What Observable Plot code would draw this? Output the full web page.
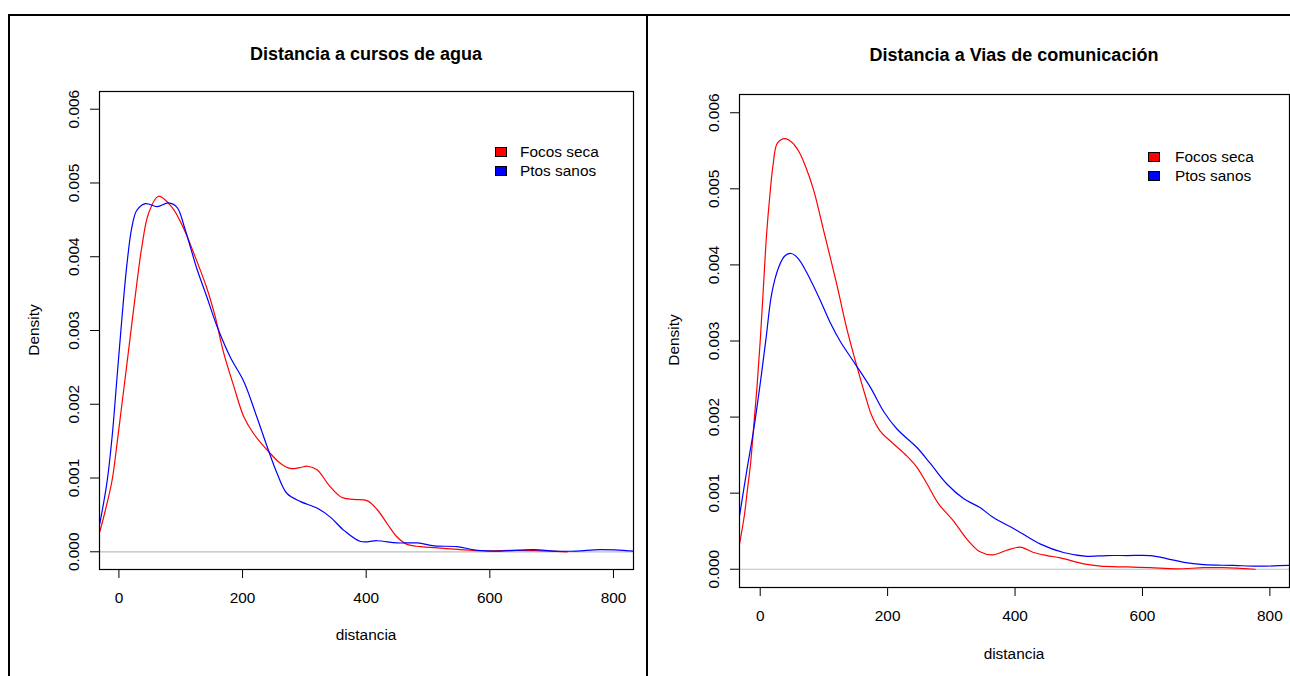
<!DOCTYPE html>
<html>
<head>
<meta charset="utf-8">
<script src="https://cdn.jsdelivr.net/npm/d3@7"></script>
<script src="https://cdn.jsdelivr.net/npm/@observablehq/plot@0.6"></script>
<style>
  body { margin: 0; background: #fff; }
  #wrap { position: relative; width: 1290px; height: 676px; overflow: hidden; background: #fff;
          font-family: "Liberation Sans", Arial, Helvetica, sans-serif; color: #000; }
  .panel { position: absolute; top: 0; }
  .line { position: absolute; background: #000; z-index: 5; }
  .c { position: absolute; transform: translate(-50%, -50%); white-space: nowrap; line-height: 1; font-size: 15.4px; }
  .rot { position: absolute; transform: translate(-50%, -50%) rotate(-90deg); white-space: nowrap; line-height: 1; font-size: 15.4px; }
  .title { font-weight: bold; font-size: 18px; }
  .lg { position: absolute; transform: translate(0, -50%); white-space: nowrap; line-height: 1; font-size: 15.4px; }
  .sq { position: absolute; width: 12px; height: 10px; box-sizing: border-box; border: 1px solid #000; }
</style>
</head>
<body>
<div id="wrap"></div>
<script>
// ---------------- data ----------------
const seriesNames = ["Focos seca", "Ptos sanos"];
const seriesColors = ["#FF0000", "#0000FF"];
const titles = ["Distancia a cursos de agua", "Distancia a Vias de comunicación"];
const xLabel = "distancia";
const yLabel = "Density";
const xTicks = [0, 200, 400, 600, 800];
const yTicks = [0, 0.001, 0.002, 0.003, 0.004, 0.005, 0.006];

// Panel 1: Distancia a cursos de agua
const aguaFocosX = [-31, -22, -11, -3, 5, 13, 21, 29, 37, 48, 64, 86, 106, 121, 142, 156, 169, 186, 202, 218, 242, 261, 277, 292, 305, 321, 340, 360, 380, 402, 418, 434, 450, 466, 488, 520, 552, 590, 645, 682, 725];
const aguaFocosD = [0.00027, 0.00056, 0.00097, 0.00147, 0.00201, 0.00255, 0.0031, 0.00364, 0.00413, 0.00459, 0.00482, 0.00467, 0.00436, 0.00405, 0.00358, 0.00318, 0.00271, 0.00224, 0.00183, 0.0016, 0.00136, 0.0012, 0.00113, 0.00114, 0.00116, 0.00111, 0.0009, 0.00074, 0.00071, 0.00069, 0.00057, 0.00038, 0.0002, 0.0001, 0.00007, 0.00005, 0.00003, 0.000014, 0.00002, 0.000013, 0];
const aguaSanosX = [-31, -19.5, -11, -3, 5, 13, 21, 29, 43, 62, 80, 94, 106, 126, 142, 159, 180, 202, 223, 240, 256, 272, 294, 321, 342, 364, 391, 418, 450, 483, 510, 547, 580, 617, 671, 704, 740, 779, 832];
const aguaSanosD = [0.00038, 0.00093, 0.00156, 0.00237, 0.00318, 0.0039, 0.0044, 0.00463, 0.00472, 0.00468, 0.00473, 0.00467, 0.0044, 0.00384, 0.00346, 0.00305, 0.00264, 0.00231, 0.00183, 0.00142, 0.00106, 0.00079, 0.00068, 0.00059, 0.00047, 0.00029, 0.00014, 0.00015, 0.00012, 0.00012, 0.00008, 0.00007, 0.00002, 0.00001, 0.00003, 0.00001, 0.00001, 0.00003, 0.00001];

// Panel 2: Distancia a Vias de comunicación
const viasFocosX = [-32.5, -25, -20, -15, -10, -5, 0, 5, 10, 15, 20, 27, 39, 50, 60, 70, 84, 99, 120, 136, 152, 165, 175, 188, 209, 230, 246, 262, 280, 303, 324, 345, 366, 387, 408, 429, 450, 471, 508, 534, 576, 612, 654, 696, 727, 777];
const viasFocosD = [0.00033, 0.0007, 0.00105, 0.0014, 0.0019, 0.0024, 0.003, 0.0037, 0.0044, 0.0049, 0.0053, 0.0056, 0.00566, 0.00561, 0.0055, 0.00532, 0.00498, 0.00447, 0.00375, 0.00316, 0.00266, 0.00228, 0.00202, 0.00182, 0.00165, 0.00149, 0.00134, 0.00112, 0.00086, 0.00064, 0.0004, 0.00023, 0.00019, 0.00025, 0.00029, 0.00022, 0.00018, 0.00015, 0.00007, 0.00004, 0.00003, 0.00002, 0.000005, 0.00002, 0.00002, 0];
const viasSanosX = [-32.5, -21, -10.5, 0, 9.4, 18, 29, 39, 49, 60, 73, 94, 110, 126, 149, 173, 194, 215, 246, 267, 293, 319, 345, 366, 403, 440, 476, 513, 544, 576, 612, 638, 665, 696, 743, 780, 831];
const viasSanosD = [0.0007, 0.0013, 0.00182, 0.00244, 0.00305, 0.00362, 0.00397, 0.00412, 0.00415, 0.00408, 0.0039, 0.00354, 0.00324, 0.00299, 0.0027, 0.00239, 0.00207, 0.00184, 0.0016, 0.00139, 0.00112, 0.00093, 0.00081, 0.00068, 0.00051, 0.00033, 0.00022, 0.00017, 0.00018, 0.00018, 0.00018, 0.00014, 0.00009, 0.00006, 0.00005, 0.00004, 0.00005];

// ---------------- helpers ----------------
const rows = (xs, ds, serie) => xs.map((x, i) => ({x, d: ds[i], serie}));
const FONT = '"Liberation Sans", Arial, Helvetica, sans-serif';

function panel(data, xDomain, width, height, m) {
  return Plot.plot({
    width, height,
    marginLeft: m[0], marginRight: m[1], marginTop: m[2], marginBottom: m[3],
    x: {domain: xDomain},
    y: {domain: [-0.00024, 0.00624]},
    color: {domain: seriesNames, range: seriesColors},
    style: {fontFamily: FONT, fontSize: "15.4px", background: "transparent", color: "#000"},
    marks: [
      Plot.ruleY([0], {stroke: "#BEBEBE", strokeWidth: 1.2}),
      Plot.line(data, {x: "x", y: "d", z: "serie", stroke: "serie", strokeWidth: 1.2, curve: "catmull-rom", clip: true}),
      Plot.frame({stroke: "#000", strokeWidth: 1.2}),
      Plot.axisX({ticks: xTicks, tickSize: 9, tickPadding: 14, tickFormat: d => String(d), label: null, fontSize: 15.4, stroke: "#000"}),
      Plot.axisY({ticks: yTicks, tickSize: 9, tickPadding: 12, tickRotate: -90, tickFormat: d3.format(".3f"), label: null, fontSize: 15.4, stroke: "#000"})
    ]
  });
}

const wrap = document.getElementById("wrap");

const p1 = panel(
  [...rows(aguaFocosX, aguaFocosD, seriesNames[0]), ...rows(aguaSanosX, aguaSanosD, seriesNames[1])],
  [-31.4, 832.4], 648, 676, [99, 15, 91, 107]);
p1.classList.add("panel"); p1.style.left = "0px";
wrap.appendChild(p1);

const p2 = panel(
  [...rows(viasFocosX, viasFocosD, seriesNames[0]), ...rows(viasSanosX, viasSanosD, seriesNames[1])],
  [-32.5, 830.8], 642, 676, [91, 1, 94, 89]);
p2.classList.add("panel"); p2.style.left = "648px";
wrap.appendChild(p2);

function add(cls, text, x, y, extra) {
  const el = document.createElement("div");
  el.className = cls;
  el.textContent = text;
  el.style.left = x + "px"; el.style.top = y + "px";
  if (extra) Object.assign(el.style, extra);
  wrap.appendChild(el);
  return el;
}
function box(cls, x, y, w, h, bg) {
  const el = document.createElement("div");
  el.className = cls;
  el.style.left = x + "px"; el.style.top = y + "px";
  if (w != null) el.style.width = w + "px";
  if (h != null) el.style.height = h + "px";
  if (bg) el.style.background = bg;
  wrap.appendChild(el);
  return el;
}

// outer frame lines
box("line", 8, 14, 1282, 2);
box("line", 8, 14, 2, 662);
box("line", 646, 14, 2, 662);

// titles
add("c title", titles[0], 366, 54);
add("c title", titles[1], 1014, 55);
// axis labels
add("c", xLabel, 366, 635);
add("c", xLabel, 1014, 654);
add("rot", yLabel, 34.2, 330);
add("rot", yLabel, 674.2, 340);

// legends
const legends = [
  {sqx: 495, tx: 520, ys: [152.3, 170.7]},
  {sqx: 1148, tx: 1175, ys: [157, 176]}
];
for (const L of legends) {
  seriesNames.forEach((name, i) => {
    box("sq", L.sqx, L.ys[i] - 5, null, null, seriesColors[i]);
    add("lg", name, L.tx, L.ys[i]);
  });
}
</script>
</body>
</html>
